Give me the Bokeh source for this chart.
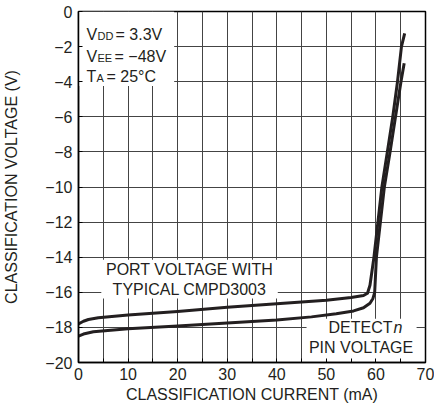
from bokeh.plotting import figure
from bokeh.models import Range1d, FixedTicker, Label
from bokeh.layouts import gridplot
from bokeh.embed import file_html
from bokeh.resources import INLINE

# ---- data ----
port_x = [0, 1, 2, 4, 10, 20, 30, 40, 50, 55, 57.5, 58.3, 58.8, 59.6, 60.4, 61.2, 62.3, 63.4, 64.35, 65.15, 65.8]
port_y = [-17.8, -17.65, -17.55, -17.45, -17.3, -17.1, -16.85, -16.65, -16.45, -16.3, -16.18, -16.05, -15.6, -14, -12, -10, -8, -6, -4, -2, -1.25]

det_x = [0, 1, 3, 10, 20, 30, 40, 47, 52, 55.5, 57.5, 58.8, 59.4, 59.75, 60.1, 60.9, 61.7, 62.85, 63.95, 65.05, 65.7]
det_y = [-18.5, -18.38, -18.25, -18.08, -17.92, -17.75, -17.58, -17.4, -17.22, -17.06, -16.88, -16.62, -16.35, -16.0, -14, -12, -10, -8, -6, -4, -2.95]

x_ticks = [0, 10, 20, 30, 40, 50, 60, 70]
x_minor = [5, 15, 25, 35, 45, 55, 65]
x_grid = [0, 5, 10, 15, 20, 25, 30, 35, 40, 45, 50, 55, 60, 65, 70]
y_ticks = [-20, -18, -16, -14, -12, -10, -8, -6, -4, -2, 0]
y_labels = ["\u221220", "\u221218", "\u221216", "\u221214", "\u221212", "\u221210",
            "\u22128", "\u22126", "\u22124", "\u22122", "0"]

FONT = "Liberation Sans"
FS = "16px"
INK = "#231f20"
GRID = "#444444"

p = figure(width=434, height=408, output_backend="svg", toolbar_location=None,
           x_range=Range1d(0, 70), y_range=Range1d(-20, 0),
           min_border_left=76, min_border_right=9, min_border_top=11, min_border_bottom=46)

p.background_fill_color = "white"
p.outline_line_color = "black"
p.outline_line_width = 1.5

# axes
p.xaxis.ticker = FixedTicker(ticks=x_ticks, minor_ticks=x_minor)
p.yaxis.ticker = FixedTicker(ticks=y_ticks)
p.yaxis.major_label_overrides = {t: l for t, l in zip(y_ticks, y_labels)}
for ax in (p.xaxis, p.yaxis):
    ax.major_tick_in = 4
    ax.major_tick_out = 0
    ax.minor_tick_in = 4
    ax.minor_tick_out = 0
    ax.major_tick_line_color = "black"
    ax.minor_tick_line_color = "black"
    ax.axis_line_color = "black"
    ax.axis_line_width = 1.5
    ax.major_label_text_font = FONT
    ax.major_label_text_font_size = FS
    ax.major_label_text_color = INK
    ax.axis_label_text_font = FONT
    ax.axis_label_text_font_size = FS
    ax.axis_label_text_font_style = "normal"
    ax.axis_label_text_color = INK
p.yaxis.minor_tick_line_color = None
p.xaxis.axis_label = "CLASSIFICATION CURRENT (mA)"
p.yaxis.axis_label = "CLASSIFICATION VOLTAGE (V)"
p.xaxis.major_label_standoff = 5
p.xaxis.axis_label_standoff = 3
p.yaxis.major_label_standoff = 6
p.yaxis.axis_label_standoff = 22

# grid
p.xgrid.ticker = FixedTicker(ticks=x_grid)
p.ygrid.ticker = FixedTicker(ticks=y_ticks)
p.xgrid.grid_line_color = GRID
p.ygrid.grid_line_color = GRID

# white boxes behind the annotation texts
p.quad(left=[0, 4.6, 46.0], right=[19.3, 40.2, 68.2],
       top=[0, -14.15, -17.5], bottom=[-4.25, -16.35, -19.85],
       fill_color="white", line_color=None)

# curves
p.line(port_x, port_y, line_width=3, line_color=INK, line_join="round")
p.line(det_x, det_y, line_width=3, line_color=INK, line_join="round")

def lab(x, y, text, xo=0, yo=0, size=FS, align="left", base="alphabetic", style="normal"):
    p.add_layout(Label(x=x, y=y, x_offset=xo, y_offset=yo, text=text,
                       text_font=FONT, text_font_size=size, text_color=INK,
                       text_align=align, text_baseline=base, text_font_style=style))

# conditions block
lab(0, -1.29, "V", xo=8)
lab(0, -1.29, "DD", xo=19, yo=-1.5, size="11px")
lab(0, -1.29, "= 3.3V", xo=37)
lab(0, -2.55, "V", xo=8)
lab(0, -2.55, "EE", xo=19, yo=-1.5, size="11px")
lab(0, -2.55, "= \u221248V", xo=36)
lab(0, -3.72, "T", xo=8)
lab(0, -3.72, "A", xo=18, yo=-1.5, size="11px")
lab(0, -3.72, "= 25\u00b0C", xo=28)

# curve labels
lab(22.4, -14.7, "PORT VOLTAGE WITH", align="center", base="middle")
lab(22.4, -15.84, "TYPICAL CMPD3003", align="center", base="middle")
lab(57.0, -18.0, "DETECT", xo=31.5, align="right", base="middle")
lab(57.0, -18.0, "n", xo=32.5, align="left", base="middle", style="italic")
lab(57.0, -19.15, "PIN VOLTAGE", align="center", base="middle")

layout = gridplot([[p]], toolbar_location=None)
open("out.html", "w").write(file_html(layout, INLINE))
